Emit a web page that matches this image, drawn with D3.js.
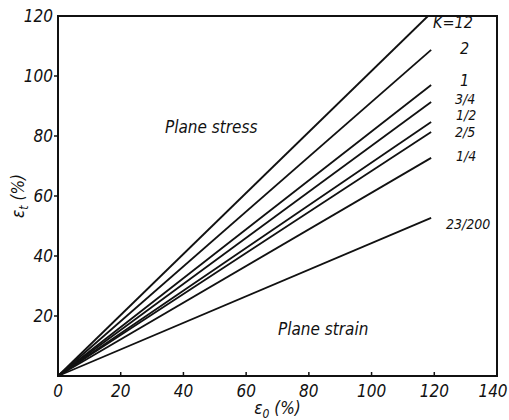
<!DOCTYPE html>
<html>
<head>
<script src="https://d3js.org/d3.v7.min.js"></script>
<style>
  body { margin: 0; background: #fff; }
  text { font-family: "DejaVu Sans Condensed", "DejaVu Sans", sans-serif; font-stretch: condensed; font-style: italic; fill: #111; }
</style>
</head>
<body>
<div id="chart"></div>
<script>
// K values and where each line ends (eps0, epst)
var kLabels = ["K=12", "2", "1", "3/4", "1/2", "2/5", "1/4", "23/200"];
var endX    = [118, 119, 119, 119, 119, 119, 119, 119];
var endY    = [120, 108.7, 97, 91.3, 84.7, 81.3, 72.7, 52.7];
var xTicks  = [0, 20, 40, 60, 80, 100, 120, 140];
var yTicks  = [20, 40, 60, 80, 100, 120];

var width = 509, height = 420;
var margin = {left: 58, right: 12, top: 16, bottom: 44};

var svg = d3.select("#chart").append("svg")
  .attr("width", width).attr("height", height);

var x = d3.scaleLinear().domain([0, 140]).range([margin.left, width - margin.right]);
var y = d3.scaleLinear().domain([0, 120]).range([height - margin.bottom, margin.top]);

// frame
svg.append("rect")
  .attr("x", x(0)).attr("y", y(120))
  .attr("width", x(140) - x(0)).attr("height", y(0) - y(120))
  .attr("fill", "none").attr("stroke", "#111").attr("stroke-width", 2);

// ticks (small marks, x inside, y outside)
svg.append("g").selectAll("line").data(xTicks.slice(1, -1)).join("line")
  .attr("x1", d => x(d)).attr("x2", d => x(d))
  .attr("y1", y(0)).attr("y2", y(0) - 4)
  .attr("stroke", "#111").attr("stroke-width", 1.5);
svg.append("g").selectAll("line").data(yTicks.slice(0, -1)).join("line")
  .attr("x1", x(0)).attr("x2", x(0) - 4)
  .attr("y1", d => y(d)).attr("y2", d => y(d))
  .attr("stroke", "#111").attr("stroke-width", 1.5);

// tick labels
svg.append("g").selectAll("text").data(xTicks).join("text")
  .attr("x", d => d === 140 ? x(d) - 4 : x(d)).attr("y", y(0) + 21)
  .attr("text-anchor", "middle")
  .attr("font-size", 17)
  .text(d => d);
svg.append("g").selectAll("text").data(yTicks).join("text")
  .attr("x", x(0) - 5).attr("y", d => y(d) + 6)
  .attr("text-anchor", "end")
  .attr("font-size", 17)
  .text(d => d);

// lines from origin
var lines = kLabels.map((k, i) => ({k: k, x2: endX[i], y2: endY[i]}));
svg.append("g").selectAll("line").data(lines).join("line")
  .attr("x1", x(0)).attr("y1", y(0))
  .attr("x2", d => x(d.x2)).attr("y2", d => y(d.y2))
  .attr("stroke", "#111").attr("stroke-width", 1.8);

// K labels
var labelPos = [[433, 28], [460, 54], [460, 86], [455, 104], [456, 120], [455, 137], [456, 161], [446, 229]];
svg.append("g").selectAll("text").data(lines).join("text")
  .attr("x", (d, i) => labelPos[i][0]).attr("y", (d, i) => labelPos[i][1])
  .attr("font-size", (d, i) => (i >= 3) ? 14 : 16)
  .text(d => d.k);

// region labels
svg.append("text").attr("x", 165).attr("y", 133).attr("font-size", 17).text("Plane stress");
svg.append("text").attr("x", 278).attr("y", 335).attr("font-size", 17).text("Plane strain");

// axis titles
svg.append("text").attr("x", (x(0) + x(140)) / 2).attr("y", 414)
  .attr("text-anchor", "middle").attr("font-size", 17)
  .html("ε<tspan font-size='12' dy='4'>0</tspan><tspan dy='-4'>  (%)</tspan>");
svg.append("text")
  .attr("transform", "translate(24," + y(60) + ") rotate(-90)")
  .attr("text-anchor", "middle").attr("font-size", 17)
  .html("ε<tspan font-size='12' dy='4'>t</tspan><tspan dy='-4'>  (%)</tspan>");
</script>
</body>
</html>
